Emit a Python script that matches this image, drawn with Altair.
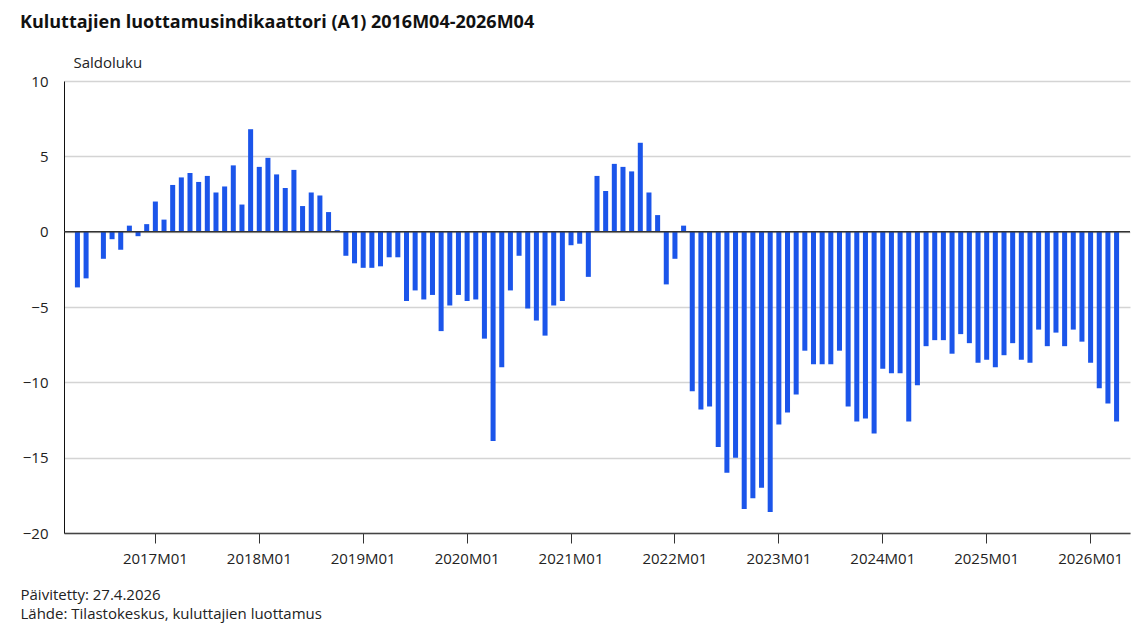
import altair as alt
import pandas as pd

# Monthly balance figures (saldoluku), 2016M04-2026M04
v2016 = [-3.7, -3.1, 0.0, -1.8, -0.5, -1.2, 0.4, -0.3, 0.5]  # M04-M12
v2017 = [2.0, 0.8, 3.1, 3.6, 3.9, 3.3, 3.7, 2.6, 3.0, 4.4, 1.8, 6.8]
v2018 = [4.3, 4.9, 3.8, 2.9, 4.1, 1.7, 2.6, 2.4, 1.3, 0.1, -1.6, -2.1]
v2019 = [-2.4, -2.4, -2.3, -1.7, -1.7, -4.6, -3.9, -4.5, -4.2, -6.6, -4.9, -4.2]
v2020 = [-4.6, -4.5, -7.1, -13.9, -9.0, -3.9, -1.6, -5.1, -5.9, -6.9, -4.9, -4.6]
v2021 = [-0.9, -0.8, -3.0, 3.7, 2.7, 4.5, 4.3, 4.0, 5.9, 2.6, 1.1, -3.5]
v2022 = [-1.8, 0.4, -10.6, -11.8, -11.6, -14.3, -16.0, -15.0, -18.4, -17.7, -17.0, -18.6]
v2023 = [-12.8, -12.0, -10.8, -7.9, -8.8, -8.8, -8.8, -7.9, -11.6, -12.6, -12.4, -13.4]
v2024 = [-9.1, -9.4, -9.4, -12.6, -10.2, -7.6, -7.2, -7.2, -8.1, -6.8, -7.4, -8.7]
v2025 = [-8.5, -9.0, -8.2, -7.4, -8.5, -8.7, -6.5, -7.6, -6.7, -7.6, -6.5, -7.3]
v2026 = [-8.7, -10.4, -11.4, -12.6]  # M01-M04

years = {2016: v2016, 2017: v2017, 2018: v2018, 2019: v2019, 2020: v2020,
         2021: v2021, 2022: v2022, 2023: v2023, 2024: v2024, 2025: v2025,
         2026: v2026}

months, values = [], []
for y, vals in years.items():
    start = 4 if y == 2016 else 1
    for i, v in enumerate(vals):
        months.append(f"{y}M{start + i:02d}")
        values.append(v)

tick_labels = [f"{y}M01" for y in range(2017, 2027)]
y_ticks = [-20, -15, -10, -5, 0, 5, 10]

df = pd.DataFrame({"kuukausi": months, "arvo": values})

# empty slots at both ends give the plot its side margins
x_domain = ["_alku"] + months + ["_loppu"]

FONT = "Open Sans"
BLUE = "#1b55ea"
TEXT = "#222222"

bars = alt.Chart(df).mark_bar(color=BLUE).encode(
    x=alt.X(
        "kuukausi:O",
        sort=None,
        scale=alt.Scale(domain=x_domain, paddingInner=0.42, paddingOuter=0.26),
        axis=alt.Axis(
            values=tick_labels,
            labelAngle=0,
            labelFontSize=15,
            labelColor=TEXT,
            labelFont=FONT,
            labelPadding=8,
            tickSize=10,
            tickColor="#333333",
            domain=True,
            domainColor="#444444",
            domainWidth=1.5,
            grid=False,
            title=["Päivitetty: 27.4.2026", "Lähde: Tilastokeskus, kuluttajien luottamus"],
            titleX=-44,
            titleY=66,
            titleAlign="left",
            titleAnchor="start",
            titleBaseline="alphabetic",
            titleFontSize=15,
            titleFontWeight="normal",
            titleColor=TEXT,
            titleFont=FONT,
            titleLineHeight=19,
        ),
    ),
    y=alt.Y(
        "arvo:Q",
        scale=alt.Scale(domain=[-20, 10], nice=False),
        axis=alt.Axis(
            values=y_ticks,
            labelFontSize=15,
            labelColor=TEXT,
            labelFont=FONT,
            labelPadding=16,
            tickSize=0,
            ticks=False,
            domain=True,
            domainColor="#111111",
            domainWidth=1,
            grid=True,
            gridColor="#d4d4d4",
            gridWidth=1.5,
            title="Saldoluku",
            titleAngle=0,
            titleX=9,
            titleY=-14,
            titleAlign="left",
            titleBaseline="alphabetic",
            titleFontSize=15,
            titleFontWeight="normal",
            titleColor=TEXT,
            titleFont=FONT,
        ),
    ),
)

zero = alt.Chart(pd.DataFrame({"nolla": [0]})).mark_rule(
    color="#333333", strokeWidth=1.5
).encode(y="nolla:Q")

chart = alt.layer(bars, zero).properties(
    width=1066,
    height=452,
    autosize=alt.AutoSizeParams(type="none"),
    padding={"left": 56, "top": 73, "right": 2, "bottom": 100},
    title=alt.TitleParams(
        "Kuluttajien luottamusindikaattori (A1) 2016M04-2026M04",
        anchor="start",
        frame="group",
        dx=-44,
        offset=23,
        fontSize=18,
        fontWeight="bold",
        font=FONT,
        color="#111111",
    ),
).configure_view(stroke=None)

chart.save("out.html", embed_options={"renderer": "svg", "actions": False})
